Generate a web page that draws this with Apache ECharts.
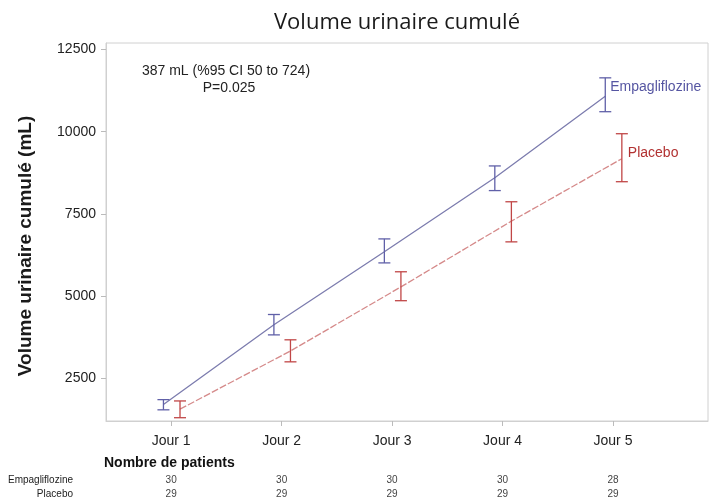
<!DOCTYPE html>
<html><head><meta charset="utf-8">
<script src="https://cdn.jsdelivr.net/npm/echarts@6/dist/echarts.min.js"></script>
<style>html,body{margin:0;padding:0;background:#fff}#c{width:715px;height:504px}</style>
</head><body><div id="c"></div>
<script>
const days = ['Jour 1','Jour 2','Jour 3','Jour 4','Jour 5'];
const dayPos = [1, 2, 3, 4, 5];
const empaMean = [1700, 4130, 6350, 8600, 11080];
const empaLow  = [1540, 3820, 6010, 8210, 10610];
const empaHigh = [1850, 4440, 6740, 8960, 11640];
const placMean = [1560, 3330, 5280, 7280, 9180];
const placLow  = [1300, 3000, 4860, 6650, 8480];
const placHigh = [1810, 3670, 5740, 7870, 9940];
const nEmpa = [30, 30, 30, 30, 28];
const nPlac = [29, 29, 29, 29, 29];
const yTicks = [2500, 5000, 7500, 10000, 12500];
const empaShift = -0.07, placShift = 0.08;

const FONT = 'Liberation Sans, Arial, sans-serif';
const EMPA_LINE = '#7c7cae', EMPA_BAR = '#6060a8', EMPA_TXT = '#5656a2';
const PLAC_LINE = '#d58a8a', PLAC_BAR = '#c04646', PLAC_TXT = '#b23232';

function errRender(color) {
  return function (params, api) {
    const x = api.value(0), lo = api.value(1), hi = api.value(2);
    const pl = api.coord([x, lo]), ph = api.coord([x, hi]);
    const w = 6;
    const st = { stroke: color, lineWidth: 1.3 };
    return { type: 'group', children: [
      { type: 'line', shape: { x1: pl[0], y1: pl[1], x2: ph[0], y2: ph[1] }, style: st },
      { type: 'line', shape: { x1: pl[0] - w, y1: pl[1], x2: pl[0] + w, y2: pl[1] }, style: st },
      { type: 'line', shape: { x1: ph[0] - w, y1: ph[1], x2: ph[0] + w, y2: ph[1] }, style: st }
    ]};
  };
}

function countAxis(offset, name, counts) {
  return {
    type: 'value', min: 0.41, max: 5.86, position: 'bottom', offset: offset,
    axisLine: { show: false }, axisTick: { show: false }, splitLine: { show: false },
    axisLabel: { customValues: dayPos, formatter: v => String(counts[Math.round(v) - 1]),
      fontSize: 10, color: '#444', fontFamily: FONT, margin: 0, verticalAlign: 'middle' },
    name: name, nameLocation: 'start', nameGap: 33,
    nameTextStyle: { fontSize: 10, color: '#222', fontFamily: FONT, verticalAlign: 'middle' }
  };
}

const chart = echarts.init(document.getElementById('c'), null, { renderer: 'canvas' });
chart.setOption({
  backgroundColor: '#fff',
  animation: false,
  title: { text: 'Volume urinaire cumulé', left: 392, top: 7, textAlign: 'center',
    textStyle: { fontFamily: 'Open Sans', fontWeight: 'normal', fontSize: 22, color: '#1a1a1a' } },
  grid: { left: 106, right: 7, top: 43, bottom: 83, show: true, borderColor: '#d0d0d0', borderWidth: 1 },
  xAxis: [
    { type: 'value', min: 0.41, max: 5.86, position: 'bottom',
      axisLine: { show: true, lineStyle: { color: '#d0d0d0' } },
      axisTick: { show: true, customValues: dayPos, length: 5, lineStyle: { color: '#bbb' } },
      axisLabel: { customValues: dayPos, formatter: v => days[Math.round(v) - 1],
        fontSize: 14, color: '#222', fontFamily: FONT, margin: 13 },
      splitLine: { show: false } },
    countAxis(59, 'Empagliflozine', nEmpa),
    countAxis(73, 'Placebo', nPlac)
  ],
  yAxis: {
    type: 'value', min: 1200, max: 12700,
    axisLine: { show: true, lineStyle: { color: '#d0d0d0' } },
    axisTick: { show: true, customValues: yTicks, length: 5, lineStyle: { color: '#bbb' } },
    axisLabel: { customValues: yTicks, formatter: v => String(v), fontSize: 14, color: '#222',
      fontFamily: FONT, margin: 10 },
    splitLine: { show: false }
  },
  graphic: [
    { type: 'text', x: 26, y: 246, rotation: Math.PI / 2,
      style: { text: 'Volume urinaire cumulé (mL)', font: 'bold 19px ' + FONT,
        fill: '#1a1a1a', textAlign: 'center', textVerticalAlign: 'middle' } },
    { type: 'text', x: 226, y: 71, style: { text: '387 mL (%95 CI 50 to 724)', font: '14px ' + FONT,
      fill: '#222', textAlign: 'center', textVerticalAlign: 'middle' } },
    { type: 'text', x: 229, y: 88, style: { text: 'P=0.025', font: '14px ' + FONT,
      fill: '#222', textAlign: 'center', textVerticalAlign: 'middle' } },
    { type: 'text', x: 104, y: 463, style: { text: 'Nombre de patients', font: 'bold 14px ' + FONT,
      fill: '#111', textAlign: 'left', textVerticalAlign: 'middle' } }
  ],
  series: [
    { type: 'line', name: 'Empagliflozine', symbol: 'none', z: 3,
      data: dayPos.map((d, i) => [d + empaShift, empaMean[i]]),
      lineStyle: { color: EMPA_LINE, width: 1.3 },
      endLabel: { show: true, formatter: 'Empagliflozine', color: EMPA_TXT, fontSize: 14,
        fontFamily: FONT, distance: 5, offset: [0, -9] } },
    { type: 'custom', name: 'Empa CI', renderItem: errRender(EMPA_BAR), z: 4,
      encode: { x: 0, y: [1, 2] },
      data: dayPos.map((d, i) => [d + empaShift, empaLow[i], empaHigh[i]]) },
    { type: 'line', name: 'Placebo', symbol: 'none', z: 3,
      data: dayPos.map((d, i) => [d + placShift, placMean[i]]),
      lineStyle: { color: PLAC_LINE, width: 1.3, type: [7, 2] },
      endLabel: { show: true, formatter: 'Placebo', color: PLAC_TXT, fontSize: 14,
        fontFamily: FONT, distance: 6, offset: [0, -6] } },
    { type: 'custom', name: 'Placebo CI', renderItem: errRender(PLAC_BAR), z: 4,
      encode: { x: 0, y: [1, 2] },
      data: dayPos.map((d, i) => [d + placShift, placLow[i], placHigh[i]]) }
  ]
});
</script></body></html>
